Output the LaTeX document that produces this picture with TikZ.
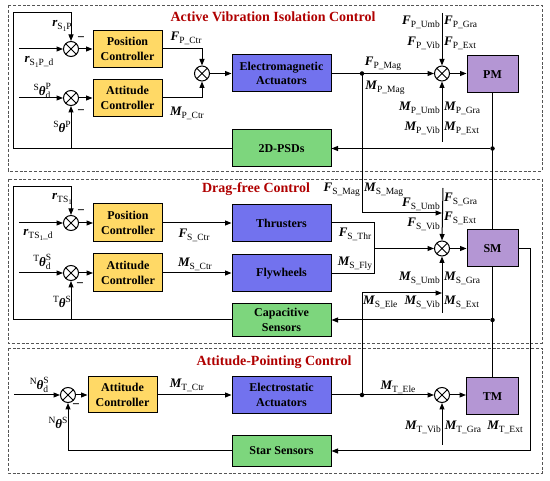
\documentclass[tikz,border=0pt]{standalone}
\usepackage{fontspec}
\setmainfont{Liberation Serif}
\usetikzlibrary{arrows.meta}
\definecolor{ctrlY}{HTML}{FFD966}
\definecolor{actB}{HTML}{7272EE}
\definecolor{senG}{HTML}{7DD67D}
\definecolor{plP}{HTML}{B496D4}
\definecolor{ttl}{HTML}{B00000}
\definecolor{sectC}{HTML}{555555}
\newcommand\sbf{\fontsize{9.5}{10}\selectfont}
\newcommand\vv[2]{{\bfseries\itshape #1}\raisebox{-3pt}{\sbf #2}}
\newcommand\thl[3]{\raisebox{5pt}{\sbf #1}{\bfseries\itshape θ}\rlap{\raisebox{5.5pt}{\sbf #2}}\raisebox{-3pt}{\sbf #3}}
\newcommand\thu[2]{\raisebox{5pt}{\sbf #1}{\bfseries\itshape θ}\raisebox{5.5pt}{\sbf #2}}
\newcommand\one{\raisebox{-1.5pt}{\fontsize{7}{7}\selectfont 1}}
\begin{document}
\begin{tikzpicture}[x=1pt,y=-1pt,
  box/.style={draw=black, line width=1pt, align=center, inner sep=1pt,
    font=\fontsize{12}{14.5}\selectfont\bfseries},
  ctrl/.style={box, fill=ctrlY, minimum width=69pt, minimum height=37pt},
  act/.style={box, fill=actB, minimum width=99pt, minimum height=37pt},
  sens/.style={box, fill=senG, minimum width=99pt, minimum height=33pt},
  plant/.style={box, fill=plP, minimum width=51pt, minimum height=37pt},
  sumj/.style={circle, draw=black, line width=1pt, minimum size=15pt, inner sep=0pt,
    path picture={\draw[line width=1pt] (path picture bounding box.south west) -- (path picture bounding box.north east)
      (path picture bounding box.north west) -- (path picture bounding box.south east);}},
  ln/.style={line width=1pt, draw=black},
  arr/.style={ln, -{Triangle[length=6.5pt,width=5pt]}},
  sect/.style={draw=sectC, line width=0.9pt, dash pattern=on 3pt off 1.8pt},
  lab/.style={inner sep=0pt, font=\fontsize{13}{15}\selectfont},
  ttlst/.style={inner sep=0pt, text=ttl, font=\fontsize{14}{16}\selectfont\bfseries},
  minus/.style={inner sep=0pt, font=\fontsize{13}{13}\selectfont\bfseries},
  dotst/.style={circle, fill=black, inner sep=0pt, minimum size=4.5pt}
]
\useasboundingbox (0,0) rectangle (550,481);
\fill[white] (0,0) rectangle (550,481);

% sections
\draw[sect] (8,5) rectangle (542,171);
\draw[sect] (8,179) rectangle (542,343);
\draw[sect] (8,348) rectangle (542,473);
\node[ttlst] (t1) at (273,17) {Active Vibration Isolation Control};
\node[ttlst] (t2) at (256,189) {Drag-free Control};
\node[ttlst] (t3) at (274,362) {Attitude-Pointing Control};

% ---------- Section 1 ----------
\node[sumj] (s1) at (71,49) {};
\node[sumj] (s2) at (71,98) {};
\node[ctrl] (pc1) at (127.5,49) {Position\\Controller};
\node[ctrl] (ac1) at (127.5,98) {Attitude\\Controller};
\node[sumj] (s3) at (202,73.5) {};
\node[act] (ea1) at (281.5,73.5) {Electromagnetic\\Actuators};
\node[sens, minimum height=37pt] (psd) at (281.5,148.5) {2D-PSDs};
\node[sumj] (s4) at (442,73.5) {};
\node[plant] (pm) at (492.5,74.5) {PM};
\node[dotst] (dot1) at (362,73.5) {};
\node[dotst] (dot2) at (492.5,148.5) {};
\coordinate (in1) at (19,49);
\coordinate (in2) at (19,98);
\coordinate (fb1a) at (13,148.5);
\coordinate (fb1b) at (13,13);
\coordinate (d1t) at (442,13);
\coordinate (d1b) at (442,142);
\coordinate (mag1) at (362,213);
\coordinate (mag2) at (442,213);

\draw[arr] (in1) -- (s1.west);
\draw[arr] (in2) -- (s2.west);
\draw[arr] (s1.east) -- (pc1.west);
\draw[arr] (s2.east) -- (ac1.west);
\draw[arr] (pc1.east) -| (s3.north);
\draw[arr] (ac1.east) -| (s3.south);
\draw[arr] (s3.east) -- (ea1.west);
\draw[arr] (ea1.east) -- (s4.west);
\draw[arr] (s4.east) -- (s4.east -| pm.west);
\draw[arr] (d1t) -- (s4.north);
\draw[arr] (d1b) -- (s4.south);
\draw[arr] (dot2) -- (psd.east);
\draw[arr] (psd.west) -- (fb1a) -- (fb1b) -| (s1.north);
\draw[arr] (s2.south |- psd.west) -- (s2.south);
\draw[arr] (dot1.center) -- (mag1) -- (mag2);

\node[lab] (l1) at (62,26) {\vv{r}{S\one P}};
\node[lab] (l2) at (39,62) {\vv{r}{S\one P\_d}};
\node[lab] (l3) at (42,91) {\thl{S}{P}{d}};
\node[lab] (l4) at (62,127) {\thu{S}{P}};
\node[minus] (m1) at (81,39) {\textminus};
\node[minus] (m2) at (81,112) {\textminus};
\node[lab] (l5) at (186,38) {\vv{F}{P\_Ctr}};
\node[lab] (l6) at (187,113) {\vv{M}{P\_Ctr}};
\node[lab] (l7) at (383,64) {\vv{F}{P\_Mag}};
\node[lab] (l8) at (385,88) {\vv{M}{P\_Mag}};
\node[lab, anchor=east] (l9) at (440,22) {\vv{F}{P\_Umb}};
\node[lab, anchor=west] (l10) at (444,22) {\vv{F}{P\_Gra}};
\node[lab, anchor=east] (l11) at (440,43) {\vv{F}{P\_Vib}};
\node[lab, anchor=west] (l12) at (444,43) {\vv{F}{P\_Ext}};
\node[lab, anchor=east] (l13) at (440,108) {\vv{M}{P\_Umb}};
\node[lab, anchor=west] (l14) at (444,108) {\vv{M}{P\_Gra}};
\node[lab, anchor=east] (l15) at (440,128) {\vv{M}{P\_Vib}};
\node[lab, anchor=west] (l16) at (444,128) {\vv{M}{P\_Ext}};

% ---------- Section 2 ----------
\node[sumj] (s5) at (71,223) {};
\node[sumj] (s6) at (71,273) {};
\node[ctrl, minimum height=38pt] (pc2) at (128,223) {Position\\Controller};
\node[ctrl, minimum height=38pt] (ac2) at (128,273) {Attitude\\Controller};
\node[act] (thr) at (281.5,223) {Thrusters};
\node[act] (fly) at (281.5,273.5) {Flywheels};
\node[sens] (cap) at (281.5,320) {Capacitive\\Sensors};
\node[sumj] (s7) at (442,248.5) {};
\node[plant] (sm) at (492.5,248.5) {SM};
\node[dotst] (dot3) at (492.5,320) {};
\coordinate (in5) at (19,223);
\coordinate (in6) at (19,273);
\coordinate (fb2a) at (13,320);
\coordinate (fb2b) at (13,187);
\coordinate (brT) at (374,223);
\coordinate (brB) at (374,273.5);
\coordinate (brM) at (374,248.5);
\coordinate (d2t) at (443,188);
\coordinate (d2b) at (442,313);
\coordinate (smr) at (530,248.5);
\coordinate (smr2) at (530,451);

\draw[arr] (in5) -- (s5.west);
\draw[arr] (in6) -- (s6.west);
\draw[arr] (s5.east) -- (pc2.west);
\draw[arr] (s6.east) -- (ac2.west);
\draw[arr] (pc2.east) -- (thr.west);
\draw[arr] (ac2.east) -- (ac2.east -| fly.west);
\draw[ln] (thr.east) -- (brT) -- (brB) -- (fly.east);
\draw[arr] (brM) -- (s7.west);
\draw[arr] (s7.east) -- (sm.west);
\draw[arr] (d2t) -- (s7.north);
\draw[arr] (d2b) -- (s7.south);
\draw[ln] (pm.south) -- (sm.north);
\draw[arr] (dot3) -- (cap.east);
\draw[arr] (cap.west) -- (fb2a) -- (fb2b) -| (s5.north);
\draw[arr] (s6.south |- cap.west) -- (s6.south);

\node[lab] (l21) at (62,199) {\vv{r}{TS\one}};
\node[lab] (l22) at (38,235) {\vv{r}{TS\one\_d}};
\node[lab] (l23) at (42,262) {\thl{T}{S}{d}};
\node[lab] (l24) at (62,302) {\thu{T}{S}};
\node[minus] (m5) at (81,212) {\textminus};
\node[minus] (m6) at (80,285) {\textminus};
\node[lab] (l25) at (194,235) {\vv{F}{S\_Ctr}};
\node[lab] (l26) at (195,264) {\vv{M}{S\_Ctr}};
\node[lab, anchor=east] (l27) at (360,190) {\vv{F}{S\_Mag}};
\node[lab, anchor=west] (l28) at (364,190) {\vv{M}{S\_Mag}};
\node[lab, anchor=east] (l29) at (440,204) {\vv{F}{S\_Umb}};
\node[lab, anchor=west] (l30) at (444,199) {\vv{F}{S\_Gra}};
\node[lab, anchor=east] (l31) at (440,224) {\vv{F}{S\_Vib}};
\node[lab, anchor=west] (l32) at (444,218) {\vv{F}{S\_Ext}};
\node[lab] (l33) at (355,234) {\vv{F}{S\_Thr}};
\node[lab] (l34) at (355,264) {\vv{M}{S\_Fly}};
\node[lab, anchor=east] (l35) at (440,278) {\vv{M}{S\_Umb}};
\node[lab, anchor=west] (l36) at (444,278) {\vv{M}{S\_Gra}};
\node[lab, anchor=west] (l37) at (363,302) {\vv{M}{S\_Ele}};
\node[lab, anchor=east] (l38) at (440,302) {\vv{M}{S\_Vib}};
\node[lab, anchor=west] (l39) at (444,302) {\vv{M}{S\_Ext}};

% ---------- Section 3 ----------
\node[sumj] (s8) at (68,395) {};
\node[ctrl, minimum height=36pt] (ac3) at (122.5,395) {Attitude\\Controller};
\node[act] (ea3) at (281.5,395) {Electrostatic\\Actuators};
\node[sens, minimum height=31pt] (star) at (281.5,451) {Star Sensors};
\node[dotst] (dot4) at (362,395) {};
\node[sumj] (s9) at (442,395) {};
\node[plant, minimum width=52pt] (tm) at (492.5,396.5) {TM};
\coordinate (in8) at (14,395);
\coordinate (ele1) at (362,293);
\coordinate (ele2) at (442,293);
\coordinate (d3b) at (442,445);

\draw[arr] (in8) -- (s8.west);
\draw[arr] (s8.east) -- (ac3.west);
\draw[arr] (ac3.east) -- (ea3.west);
\draw[arr] (ea3.east) -- (s9.west);
\draw[arr] (s9.east) -- (s9.east -| tm.west);
\draw[arr] (d3b) -- (s9.south);
\draw[ln] (sm.south) -- (tm.north);
\draw[arr] (dot4.center) -- (ele1) -- (ele2);
\draw[arr] (sm.east) -- (smr) -- (smr2) -- (star.east);
\draw[arr] (star.west) -| (s8.south);

\node[lab] (l41) at (39,385) {\thl{N}{S}{d}};
\node[lab] (l42) at (58,423) {\thu{N}{S}};
\node[minus] (m8) at (76,406) {\textminus};
\node[lab] (l43) at (187,385) {\vv{M}{T\_Ctr}};
\node[lab] (l44) at (398,387) {\vv{M}{T\_Ele}};
\node[lab, anchor=east] (l45) at (441,427) {\vv{M}{T\_Vib}};
\node[lab] (l46) at (463,427) {\vv{M}{T\_Gra}};
\node[lab] (l47) at (505,427) {\vv{M}{T\_Ext}};
\end{tikzpicture}
\end{document}
